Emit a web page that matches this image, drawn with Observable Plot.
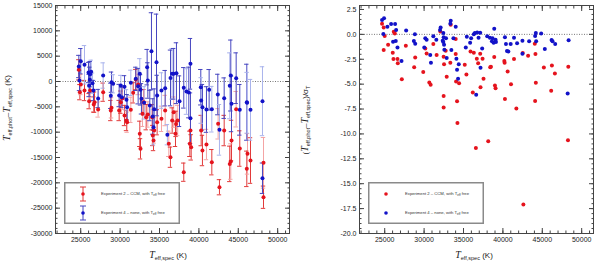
<!DOCTYPE html>
<html><head><meta charset="utf-8">
<script src="https://cdn.jsdelivr.net/npm/d3@7"></script>
<script src="https://cdn.jsdelivr.net/npm/@observablehq/plot@0.6"></script>
<style>
body{margin:0;background:#fff;}
#wrap{position:relative;width:600px;height:264px;overflow:hidden;font-family:"Liberation Sans",Arial,sans-serif;color:#222}
.panel{position:absolute;top:0}
.lab{position:absolute;white-space:nowrap;font-size:8px;line-height:1}
.lab i{font-size:10px;font-family:"Liberation Serif","DejaVu Serif",serif}
.lab sub{font-size:5.5px;vertical-align:-2px}
.rot{transform:translate(-50%,-50%) rotate(-90deg)}
.hx{transform:translate(-50%,-50%)}
.leg{position:absolute}
</style></head><body><div id="wrap"></div>
<script>
// ---- Data: left panel (Teff,phot - Teff,spec in K, with 1-sigma error) ----
const exp2X   = [24760,24890,25010,25480,26070,26200,26660,26750,27210,27850,28820,28910,29880,30090,30300,30560,30810,30890,31360,31660,31990,32290,32500,32590,32840,33010,33310,33520,34070,34150,34240,34320,34700,35250,35720,36180,36390,36610,36800,37030,37100,37310,38080,38850,38930,39020,40290,40450,40960,41640,42440,42610,43210,43920,44050,44140,44730,45190,46080,46170,46550,48200,48200];
const exp2Dev = [2300,-2110,-600,-1780,-3880,-1780,-4540,-4080,-5530,-2110,-5730,-5200,-5730,-4080,-3290,-6710,-7700,-8030,-5600,-2240,390,-600,-10330,-13290,-6380,-4080,-7040,-6510,-7040,-10660,-11650,-9670,-8030,-7370,-5730,-12300,-14940,-7700,-6050,-10330,-8370,-7700,-17900,-12300,-9680,-13000,-9680,-13620,-12440,-15930,-8350,-20870,-9680,-16260,-15800,-11650,-5470,-13230,-17240,-14280,-15600,-22840,-16050];
const exp2Err = [2000,1500,2000,2000,1500,2000,1500,2000,1500,1800,2000,2000,2000,2200,2200,2000,2000,2000,2500,2000,2000,2000,2500,2000,2500,2500,2500,2500,2500,2000,2000,2500,2500,2500,3000,2500,2000,2500,3000,2500,2500,3000,1800,2500,2500,2500,3000,3000,3000,2500,3000,1500,3000,3500,3500,4000,3500,3500,3500,4000,4500,2200,5000];
const exp2Set = [0,0,1,0,0,1,0,0,1,0,0,1,0,0,1,0,0,1,1,0,0,1,0,0,1,0,0,1,0,0,0,1,0,1,1,1,0,0,1,0,0,1,0,0,1,0,0,0,1,0,1,0,0,0,1,0,1,0,0,1,0,0,1];

const exp4X   = [24760,25010,24850,25480,25990,26200,26330,26070,26160,26500,26620,27210,27850,28820,28910,29120,29880,30090,30220,30560,30810,30890,31360,31990,32290,32500,32590,32710,33050,33430,33520,33770,33980,34150,34240,34320,34620,34700,35250,35720,36000,36400,36600,36800,37150,37540,38080,38420,38720,38930,38930,40240,40290,40450,40960,41300,41640,42400,42610,43210,43920,44050,44140,44730,45190,46080,46120,46550,48070,48070];
const exp4Dev = [2960,4010,200,3290,1770,1450,1910,-790,330,-330,-1780,-3360,1180,-2830,-135,-460,-2770,-790,-3100,-1050,-3620,-5070,-270,520,-920,1510,-1650,-3420,-4210,2830,200,-4740,5970,-6910,-9020,-5460,3800,-2770,-1780,-1320,-10500,700,1510,1520,1640,-3890,-1250,-1980,-2170,3490,-7250,-1130,-3750,-5080,-5530,-1640,-5470,-2570,-9540,-3290,-850,1180,-4410,650,-5590,-4090,-4200,-5590,-3890,-19090];
const exp4Err = [2200,2500,2000,3800,2000,2500,2300,2200,2500,2000,2000,1800,2500,2500,2000,1800,2200,2000,2000,2200,2000,2500,2500,2300,3500,3000,3000,3000,3200,3500,3500,3000,7600,3500,3500,4000,9500,4000,3500,3500,2000,5500,5000,5000,6000,5000,4000,4500,5000,5000,5000,3500,4500,4500,4500,4000,4500,4000,5000,4000,6500,7000,5500,5000,5000,7500,6000,6000,6800,3000];
const exp4Set = [0,0,0,1,0,0,1,0,0,1,0,0,1,0,0,1,0,1,0,0,1,0,1,0,0,1,0,0,1,0,0,0,0,0,1,0,0,0,1,0,1,0,1,0,0,0,0,1,0,0,0,0,1,0,0,0,1,0,1,0,1,0,0,0,0,0,1,1,1,0];

// ---- Data: right panel ((Teff,phot - Teff,spec)/sigma_T) ----
const exp2SigX = [24660,24870,25000,24870,25430,26020,26110,26150,26280,26620,26660,27170,27680,28740,28870,29890,30150,30320,30660,30830,31170,31590,32060,32480,32480,32480,32530,32740,32870,33380,33330,34010,34010,34060,34180,34230,34440,35160,35370,35890,36310,36180,36570,36690,36860,37120,37160,37420,37540,38140,38390,38480,38900,38990,39070,40180,40220,40260,40600,41030,41410,41710,42520,42600,43200,44050,44090,44130,44180,45200,46130,46220,46600,48300,48260];
const exp2SigY = [1.07,0.7,-0.17,-1.58,-1.04,-1.85,-2.48,0.27,0.1,-2.48,-2.89,-4.5,-1.14,-3.29,-2.32,-3.79,-1.41,-1.91,-4.83,-5.07,-0.97,-2.08,0.3,-6.2,-7.35,-2.25,-2.99,-1.64,-4.26,0.97,-2.85,-0.47,-1.98,-4.73,-6.71,-8.89,-4.9,-3.05,-4.03,-1.71,-1.85,-5.84,-11.41,-2.45,-2.89,-1.95,-5.3,-2.45,-4.46,-10.74,-3.29,-3.26,-2.28,-5.13,-5.4,-2.68,-2.85,-6.48,-3.72,-5.0,-2.48,-7.45,-1.88,-17.08,-2.15,-0.94,-6.68,-1.98,-4.87,-3.32,-5.67,-3.12,-3.93,-3.26,-10.64];
const exp4SigX = [24660,24915,24830,25340,25810,26320,26450,26060,26620,26400,27130,27720,28830,28700,28870,30020,30150,30320,30780,30870,31170,31550,32020,32100,32360,32440,32480,32440,32530,32570,32780,32870,33380,33330,33460,33720,34010,34100,34180,34310,34400,35290,35420,35840,35970,36310,36440,36610,36740,36910,37120,37160,37370,38010,38350,38610,38820,38900,39070,39120,38690,40260,40390,40520,40690,40990,41410,41800,42480,42480,43330,44090,44180,44220,44860,45320,46180,46300,46640,48340,48220];
const exp4SigY = [1.44,1.61,0.03,0.77,1.04,1.04,0.44,-0.74,-1.31,-0.67,-2.68,0.40,0.0,-0.67,-0.94,-1.31,-0.4,-0.54,-2.08,-2.85,-0.2,-0.54,0.44,0.70,-0.64,0.13,-0.3,-0.77,-1.04,-1.54,-0.4,-2.38,1.38,1.07,-1.58,-0.4,0.77,-2.45,-3.56,-4.46,-3.0,-1.31,-0.23,-0.84,-0.4,0.0,0.13,-6.07,0.2,-0.34,0.17,-3.35,-1.41,-0.2,-0.34,-0.7,-0.84,0.57,-0.54,-0.77,-0.4,-0.3,-0.97,-1.68,-1.71,-0.97,-0.34,-0.9,-0.64,-1.95,-0.7,-0.17,0.13,-0.7,0.1,-1.48,-0.57,-0.7,-0.97,-0.6,-5.94];

// ---- Tick labels ----
const xTickLabels = [25000,30000,35000,40000,45000,50000];
const yTickLabelsL = [-30000,-25000,-20000,-15000,-10000,-5000,0,5000,10000,15000];
const yTickLabelsR = [-20,-17.5,-15,-12.5,-10,-7.5,-5,-2.5,0,2.5];
const seriesNames = ["Experiment 2 \u2013 CCM, with T", "Experiment 4 \u2013 none, with T"];

// ---- styling ----
const RED = "#e5131d", BLUE = "#1212c8";
const RED_BAR = "#e23a3a", RED_BAR_L = "#f4a4a4";
const BLUE_BAR = "#4646c0", BLUE_BAR_L = "#a9b3ec";
const AX = "#444";
const XDOM = [21800, 51500];

const rows = (xs, ys, es, fs) => xs.map((x, i) => ({x, y: ys[i], e: es ? es[i] : 0, f: fs ? fs[i] : 0}));
const exp2 = rows(exp2X, exp2Dev, exp2Err, exp2Set);
const exp4 = rows(exp4X, exp4Dev, exp4Err, exp4Set);
const exp2s = rows(exp2SigX, exp2SigY);
const exp4s = rows(exp4SigX, exp4SigY);

function frameAxes(xMaj, xMin, yMaj, yMin, yFmt) {
  const none = () => "";
  const o = {stroke: AX, label: null, tickFormat: none};
  return [
    Plot.axisX({...o, anchor: "bottom", ticks: xMin, tickSize: 2.5, dy: -2.5}),
    Plot.axisX({...o, anchor: "bottom", ticks: xMaj, tickSize: 5, dy: -5}),
    Plot.axisX({...o, anchor: "top", ticks: xMin, tickSize: 2.5, dy: 2.5}),
    Plot.axisX({...o, anchor: "top", ticks: xMaj, tickSize: 5, dy: 5}),
    Plot.axisY({...o, anchor: "left", ticks: yMin, tickSize: 2.5, dx: 2.5}),
    Plot.axisY({...o, anchor: "left", ticks: yMaj, tickSize: 5, dx: 5}),
    Plot.axisY({...o, anchor: "right", ticks: yMin, tickSize: 2.5, dx: -2.5}),
    Plot.axisY({...o, anchor: "right", ticks: yMaj, tickSize: 5, dx: -5}),
    Plot.axisX({anchor: "bottom", ticks: xMaj, tickSize: 0, tickPadding: 4, label: null, tickFormat: d => String(d), fill: "#222"}),
    Plot.axisY({anchor: "left", ticks: yMaj, tickSize: 0, tickPadding: 3, label: null, tickFormat: yFmt, fill: "#222"}),
    Plot.frame({stroke: AX, strokeWidth: 1})
  ];
}

const xMinor = d3.range(22000, 51501, 1000);
const style = {fontFamily: "'Liberation Sans', Arial, sans-serif", fontSize: "7px", background: "white", overflow: "visible"};
const CAP = 280;

function bars(data, dark, light) {
  const st = d => d.f ? light : dark;
  return [
    Plot.ruleX(data, {x: "x", y1: d => d.y - d.e, y2: d => d.y + d.e, stroke: st, strokeWidth: 1}),
    Plot.ruleY(data, {y: d => d.y + d.e, x1: d => d.x - CAP, x2: d => d.x + CAP, stroke: st, strokeWidth: 1}),
    Plot.ruleY(data, {y: d => d.y - d.e, x1: d => d.x - CAP, x2: d => d.x + CAP, stroke: st, strokeWidth: 1})
  ];
}

const left = Plot.plot({
  width: 300, height: 264,
  marginLeft: 55, marginRight: 11, marginTop: 5, marginBottom: 31,
  style,
  x: {domain: XDOM},
  y: {domain: [-30000, 15000]},
  marks: [
    Plot.ruleY([0], {stroke: "#555", strokeDasharray: "1,1.5", strokeWidth: 0.8}),
    ...bars(exp2, RED_BAR, RED_BAR_L),
    ...bars(exp4, BLUE_BAR, BLUE_BAR_L),
    Plot.dot(exp2, {x: "x", y: "y", r: 2, fill: RED}),
    Plot.dot(exp4, {x: "x", y: "y", r: 2, fill: BLUE}),
    ...frameAxes(xTickLabels, xMinor, yTickLabelsL, d3.range(-30000, 15001, 1000), d => String(d))
  ]
});

const right = Plot.plot({
  width: 300, height: 264,
  marginLeft: 59, marginRight: 7, marginTop: 5, marginBottom: 31,
  style,
  x: {domain: XDOM},
  y: {domain: [-20, 2.9]},
  marks: [
    Plot.ruleY([0], {stroke: "#555", strokeDasharray: "1,1.5", strokeWidth: 0.8}),
    Plot.dot(exp2s, {x: "x", y: "y", r: 2, fill: RED}),
    Plot.dot(exp4s, {x: "x", y: "y", r: 2, fill: BLUE}),
    ...frameAxes(xTickLabels, xMinor, yTickLabelsR, d3.range(-20, 2.9, 0.5), d => d.toFixed(1))
  ]
});

const wrap = document.getElementById("wrap");
left.classList.add("panel"); left.style.left = "0px";
right.classList.add("panel"); right.style.left = "300px";
wrap.append(left, right);

function addLabel(html, x, y, cls) {
  const d = document.createElement("div");
  d.className = "lab " + cls;
  d.style.left = x + "px"; d.style.top = y + "px";
  d.innerHTML = html;
  wrap.append(d);
}
const T = s => `<i>T</i><sub>${s}</sub>`;
addLabel(`${T("eff,spec")} (K)`, 168, 256, "hx");
addLabel(`${T("eff,spec")} (K)`, 474, 256, "hx");
addLabel(`${T("eff,phot")}\u2013${T("eff,spec")} (K)`, 8, 108, "rot");
addLabel(`(${T("eff,phot")}\u2013${T("eff,spec")})/\u03c3<sub>T</sub>`, 306, 120, "rot");

// legends (inline SVG)
function legend(x, y, withBars) {
  const ns = "http://www.w3.org/2000/svg";
  const s = document.createElementNS(ns, "svg");
  s.setAttribute("width", 116); s.setAttribute("height", 42);
  s.setAttribute("class", "leg");
  s.style.left = x + "px"; s.style.top = y + "px";
  let h = `<rect x="0.75" y="0.75" width="114.5" height="40.5" fill="white" stroke="#8a8a8a" stroke-width="1.5"/>`;
  const items = [[RED, RED_BAR, 12, seriesNames[0]], [BLUE, BLUE_BAR, 31, seriesNames[1]]];
  for (const [c, bc, cy, name] of items) {
    const mx = withBars ? 19 : 18;
    if (withBars) {
      h += `<line x1="${mx}" x2="${mx}" y1="${cy-7}" y2="${cy+7}" stroke="${bc}"/>`;
      h += `<line x1="${mx-3}" x2="${mx+3}" y1="${cy-7}" y2="${cy-7}" stroke="${bc}"/>`;
      h += `<line x1="${mx-3}" x2="${mx+3}" y1="${cy+7}" y2="${cy+7}" stroke="${bc}"/>`;
    }
    h += `<circle cx="${mx}" cy="${cy}" r="1.8" fill="${c}"/>`;
    h += `<text x="${withBars ? 37 : 37}" y="${cy+1.3}" font-size="4.2" fill="#333" font-family="Liberation Sans, Arial">${name}<tspan font-size="3" dy="1">eff</tspan><tspan dy="-1"> free</tspan></text>`;
  }
  s.innerHTML = h;
  wrap.append(s);
}
legend(64, 182, true);
legend(368, 182, false);
</script>
</body></html>
